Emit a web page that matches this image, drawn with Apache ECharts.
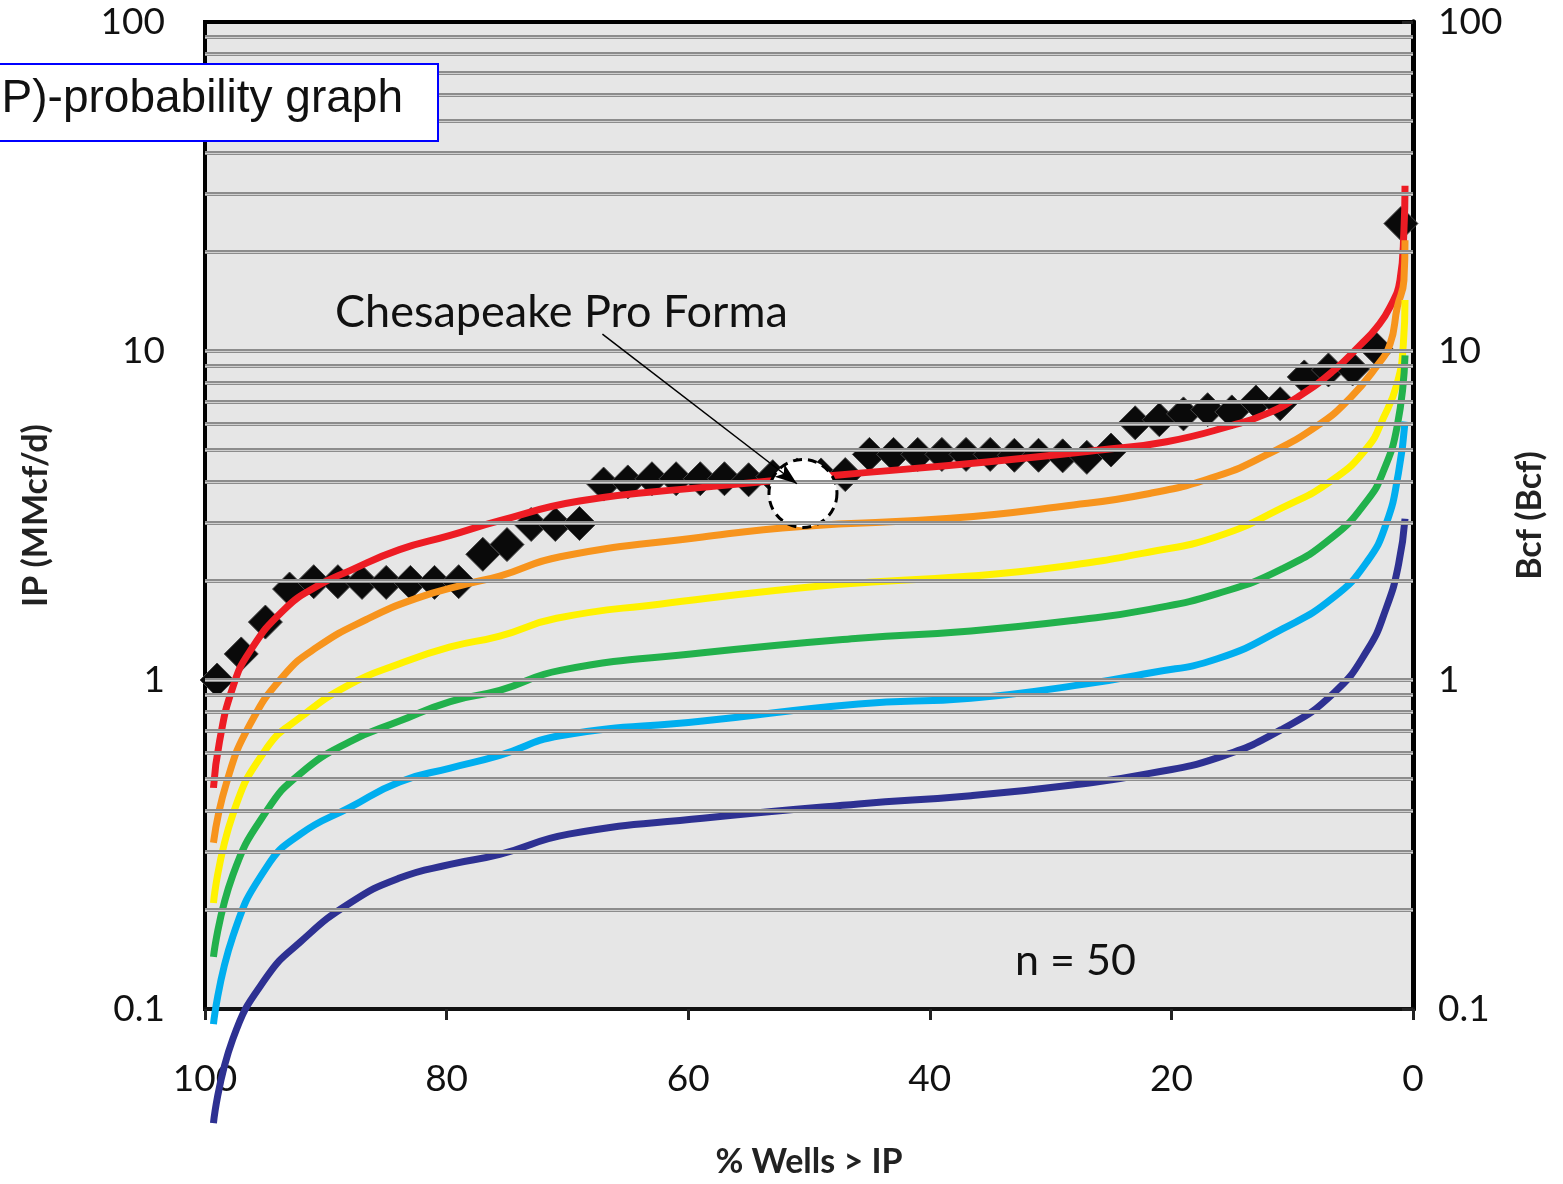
<!DOCTYPE html>
<html lang="en">
  <head>
    <meta charset="UTF-8" />
    <title>IP-probability graph</title>
    <script src="https://cdn.jsdelivr.net/npm/echarts@6.0.0/dist/echarts.min.js"></script>
  </head>
  <body style="margin: 0">
    <div id="main" style="width: 1563px; height: 1184px"></div>
  </body>
  <script type="text/javascript">
    // % of wells with IP greater than value, one point per well (n = 50)
    const wellPct = [99, 97, 95, 93, 91, 89, 87, 85, 83, 81, 79, 77, 75, 73, 71, 69, 67, 65, 63, 61,
      59, 57, 55, 53, 51, 49, 47, 45, 43, 41, 39, 37, 35, 33, 31, 29, 27, 25, 23, 21,
      19, 17, 15, 13, 11, 9, 7, 5, 3, 1];
    const wellIP = [1.0, 1.2, 1.5, 1.89, 1.99, 1.99, 1.98, 1.98, 1.98, 1.98, 1.99, 2.41, 2.58, 2.97, 2.97, 2.99, 3.94, 4.0, 4.09, 4.09,
      4.09, 4.09, 4.06, 4.15, 4.2, 4.2, 4.21, 4.85, 4.85, 4.85, 4.85, 4.85, 4.85, 4.82, 4.82, 4.8, 4.75, 5.0, 6.05, 6.18,
      6.44, 6.63, 6.53, 7.0, 6.91, 8.34, 8.76, 8.82, 10.1, 24.4];

    // probability curves [% wells, IP]
    const redCurve = [[99.3, 0.47], [98.8, 0.65], [97.7, 0.95], [96.3, 1.22], [93.5, 1.63], [90.7, 1.93], [88, 2.15], [83.9, 2.49],
      [79.7, 2.75], [75.6, 3.05], [69, 3.5], [58.8, 3.85], [47.5, 4.2], [35.3, 4.6], [25.9, 5.0], [20.4, 5.3], [14.9, 5.95],
      [12.1, 6.45], [9.4, 7.3], [6.6, 8.7], [4.4, 10.4], [3.0, 11.8], [1.9, 13.6], [1.08, 16.4], [0.75, 23.3], [0.66, 31.8]];
    const orangeCurve = [[99.3, 0.32], [98.2, 0.49], [96.3, 0.73], [93.5, 1.03], [90.7, 1.26], [86.6, 1.53], [82.5, 1.77],
      [78.3, 1.96], [75.6, 2.07], [70.6, 2.37], [58.8, 2.72], [50.6, 2.93], [38.3, 3.1], [29.1, 3.37], [21.8, 3.69],
      [16.2, 4.17], [12.1, 4.84], [7.9, 5.93], [5.2, 7.2], [3.0, 9.0], [1.9, 10.5], [1.3, 13.6], [0.75, 16.4], [0.66, 21.7]];
    const yellowCurve = [[99.3, 0.21], [97.7, 0.39], [94.9, 0.62], [92.1, 0.77], [88, 0.97], [83.9, 1.12], [79.7, 1.26],
      [75.6, 1.36], [70.9, 1.54], [62.4, 1.7], [47.7, 1.95], [36.6, 2.07], [29.2, 2.21], [21.8, 2.45], [16.2, 2.73],
      [10.8, 3.34], [6.6, 4.07], [3.8, 5.08], [2.5, 6.2], [1.3, 8.0], [0.8, 10.5], [0.66, 14.3]];
    const greenCurve = [[99.3, 0.144], [97.7, 0.255], [94.9, 0.4], [92.1, 0.52], [88, 0.65], [83.9, 0.75], [79.7, 0.86],
      [75.6, 0.93], [70.6, 1.07], [58.8, 1.21], [45.9, 1.34], [36.6, 1.41], [27.3, 1.53], [21.8, 1.64], [16.2, 1.83],
      [10.8, 2.18], [6.6, 2.73], [3.8, 3.51], [2.5, 4.27], [1.3, 5.93], [0.66, 9.7]];
    const blueCurve = [[99.3, 0.09], [97.7, 0.166], [94.9, 0.27], [92.1, 0.34], [88, 0.41], [83.9, 0.49], [79.7, 0.54],
      [75.6, 0.59], [70.6, 0.677], [58.8, 0.75], [45.9, 0.846], [36.6, 0.88], [27.3, 0.97], [21.8, 1.05], [16.2, 1.16],
      [10.8, 1.43], [6.6, 1.78], [3.8, 2.29], [2.2, 3.0], [1.2, 4.27], [0.66, 6.1]];
    const navyCurve = [[99.3, 0.045], [97.7, 0.081], [94.9, 0.125], [92.1, 0.16], [88, 0.21], [83.9, 0.25], [79.7, 0.275],
      [75.6, 0.295], [69.9, 0.34], [58.8, 0.38], [45.9, 0.42], [36.6, 0.445], [27.3, 0.484], [21.8, 0.52], [16.2, 0.58],
      [10.8, 0.71], [6.6, 0.91], [3.8, 1.23], [2.2, 1.66], [1.2, 2.24], [0.66, 3.09]];

    // minor + major horizontal grid values
    const gridValues = [0.2, 0.3, 0.4, 0.5, 0.6, 0.7, 0.8, 0.9, 1, 2, 3, 4, 5, 6, 7, 8, 9, 10, 20, 30, 40, 50, 60, 70, 80, 90];

    // Chesapeake pro forma marker and arrow from the label
    const proForma = [50.5, 3.69];
    const arrowFrom = [67.1, 11.26];
    const arrowTo = [51.0, 3.95];

    const font = 'Lato, "Open Sans", sans-serif';
    const curves = [
      { data: redCurve, color: '#ed1c24' },
      { data: orangeCurve, color: '#f7941d' },
      { data: yellowCurve, color: '#fff200' },
      { data: greenCurve, color: '#22b14c' },
      { data: blueCurve, color: '#00aeef' },
      { data: navyCurve, color: '#2e3192' },
    ];

    const myChart = echarts.init(document.getElementById('main'));

    const series = [
      {
        type: 'scatter', data: [], z: 1, silent: true,
        markLine: {
          silent: true, symbol: 'none', label: { show: false },
          lineStyle: { color: '#8c8c8c', width: 4, type: 'solid', opacity: 1 },
          data: gridValues.map((v) => ({ yAxis: v })),
        },
      },
      {
        type: 'scatter', data: [], z: 1, silent: true,
        markLine: {
          silent: true, symbol: 'none', label: { show: false },
          lineStyle: { color: '#cfcfcf', width: 1.2, type: 'solid', opacity: 1 },
          data: gridValues.map((v) => ({ yAxis: v })),
        },
      },
      {
        name: 'Wells', type: 'scatter', z: 2,
        symbol: 'diamond', symbolSize: 34,
        itemStyle: { color: '#0a0a0a', borderColor: '#444', borderWidth: 1, opacity: 1 },
        data: wellPct.map((p, i) => [p, wellIP[i]]),
      },
    ];
    curves.forEach((c) => {
      series.push({
        type: 'line', z: 3, data: c.data, showSymbol: false, clip: false,
        smooth: 0.5,
        lineStyle: { color: c.color, width: 7, cap: 'butt' },
      });
    });
    series.push({
      name: 'Pro Forma', type: 'scatter', z: 4, data: [proForma],
      symbol: 'circle', symbolSize: 68,
      itemStyle: { color: '#ffffff', borderColor: '#000', borderWidth: 3, borderType: [9, 6], opacity: 1 },
    });
    series.push({
      type: 'scatter', data: [], z: 5, silent: true,
      markLine: {
        silent: true, symbol: ['none', 'arrow'], symbolSize: [12, 22],
        label: { show: false },
        lineStyle: { color: '#000', width: 1.5, type: 'solid', opacity: 1 },
        data: [[{ coord: arrowFrom }, { coord: arrowTo }]],
      },
    });

    const option = {
      animation: false,
      backgroundColor: '#ffffff',
      grid: {
        left: 205, right: 150, top: 22, bottom: 171,
        show: true, backgroundColor: '#e6e6e6', borderColor: '#000', borderWidth: 4,
      },
      xAxis: {
        type: 'value', min: 0, max: 100, interval: 20, inverse: true,
        name: '% Wells > IP', nameLocation: 'middle', nameGap: 136,
        nameTextStyle: { fontFamily: font, fontWeight: 'bold', fontSize: 34, color: '#222' },
        axisLine: { lineStyle: { color: '#111', width: 4 } },
        axisTick: { length: 11, lineStyle: { color: '#222', width: 3 } },
        axisLabel: { fontFamily: font, fontSize: 37, color: '#111', margin: 52 },
        splitLine: { show: false },
      },
      yAxis: [
        {
          type: 'log', logBase: 10, min: 0.1, max: 100,
          name: 'IP (MMcf/d)', nameLocation: 'middle', nameGap: 152, nameRotate: 90,
          nameTextStyle: { fontFamily: font, fontWeight: 'bold', fontSize: 34, color: '#222' },
          axisLine: { show: true, lineStyle: { color: '#222', width: 5 } },
          axisTick: { show: true, length: 11, lineStyle: { color: '#222', width: 3 } },
          axisLabel: { fontFamily: font, fontSize: 37, color: '#111', margin: 40 },
          splitLine: { show: false },
        },
        {
          type: 'log', logBase: 10, min: 0.1, max: 100, position: 'right',
          name: 'Bcf (Bcf)', nameLocation: 'middle', nameGap: 100, nameRotate: 90,
          nameTextStyle: { fontFamily: font, fontWeight: 'bold', fontSize: 34, color: '#222' },
          axisLine: { show: true, lineStyle: { color: '#000', width: 5 } },
          axisTick: { show: false },
          axisLabel: { fontFamily: font, fontSize: 37, color: '#111', margin: 25 },
          splitLine: { show: false },
        },
      ],
      graphic: [
        {
          type: 'text', left: 335, top: 290, z: 10,
          style: { text: 'Chesapeake Pro Forma', font: '45px ' + font, fill: '#111' },
        },
        {
          type: 'text', left: 1015, top: 940, z: 10,
          style: { text: 'n = 50', font: '43px ' + font, fill: '#111' },
        },
        {
          type: 'rect', left: -10, top: 63, z: 100,
          shape: { width: 447, height: 77 },
          style: { fill: '#ffffff', stroke: '#0000ff', lineWidth: 2 },
        },
        {
          type: 'text', right: 1563 - 403, top: 76, z: 101,
          style: {
            text: 'P)-probability graph', font: '46px "Liberation Sans", Arial, sans-serif',
            fill: '#111',
          },
        },
      ],
      series: series,
    };

    option && myChart.setOption(option);
  </script>
</html>
